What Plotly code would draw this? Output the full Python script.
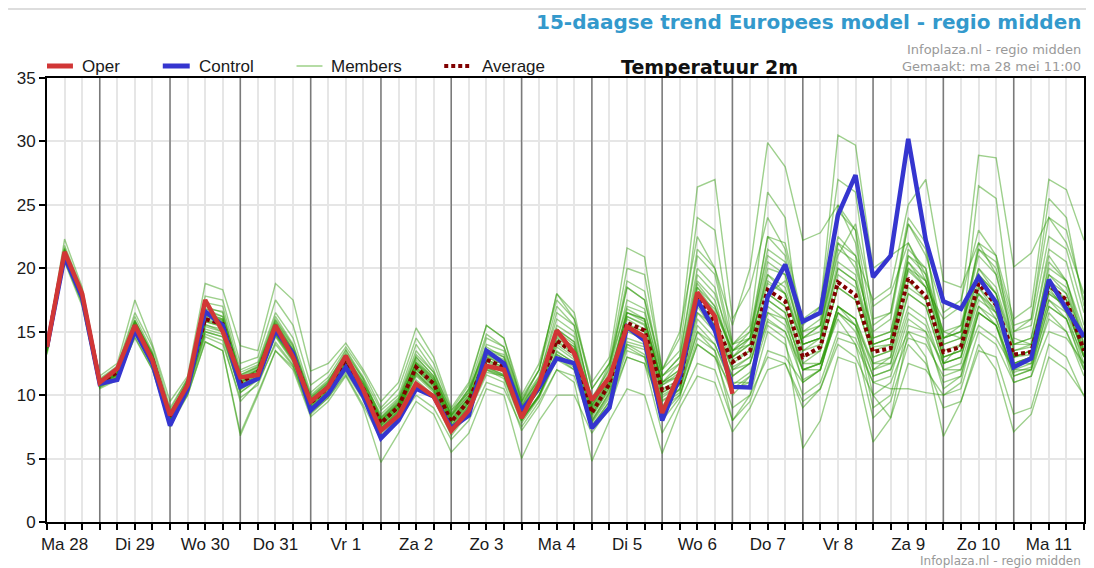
import pandas as pd
import plotly.graph_objects as go

# Time axis: 6-hourly steps, Ma 28 06:00 up to Di 12 00:00
START = '2018-05-28 06:00'
END = '2018-06-12 00:00'
DAY_LABELS = ['Ma 28', 'Di 29', 'Wo 30', 'Do 31', 'Vr 1', 'Za 2', 'Zo 3', 'Ma 4',
              'Di 5', 'Wo 6', 'Do 7', 'Vr 8', 'Za 9', 'Zo 10', 'Ma 11']

# Temperature 2m (degC)
OPER = [13.8, 21.3, 18.0,
        11.0, 12.1, 15.5, 12.75, 8.4, 10.8, 17.5, 15.0, 11.4, 11.6, 15.5, 13.0,
        9.5, 10.65, 13.1, 10.4, 7.2, 8.4, 10.9, 9.9, 7.2, 8.8, 12.3, 12.0,
        8.2, 10.9, 15.1, 13.3, 9.6, 11.4, 15.4, 14.6, 8.6, 11.8, 18.1, 16.2, 10.1]

CONTROL = [13.8, 20.9, 17.7,
           10.9, 11.2, 15.1, 12.5, 7.6, 10.5, 16.6, 15.5, 10.65, 11.3, 15.1, 13.3,
           8.8, 10.1, 12.2, 9.9, 6.6, 8.0, 10.5, 9.9, 7.4, 8.4, 13.5, 12.5,
           8.8, 10.6, 12.9, 12.5, 7.4, 9.0, 15.4, 14.3, 8.0, 11.4, 17.5, 15.1,
           10.65, 10.6, 17.75, 20.3, 15.8, 16.5, 24.2, 27.35, 19.3, 21.0, 30.2, 22.2,
           17.4, 16.8, 19.3, 17.3, 12.2, 12.9, 19.1, 16.8, 14.6]

AVERAGE = [13.8, 21.2, 17.8,
           11.0, 11.8, 15.4, 12.8, 8.2, 10.8, 16.0, 15.6, 11.0, 11.8, 15.3, 13.2,
           9.4, 10.6, 12.6, 10.5, 7.8, 9.1, 12.2, 10.9, 7.9, 9.6, 12.8, 12.2,
           8.7, 10.6, 14.3, 13.3, 8.6, 10.9, 15.7, 15.1, 10.4, 11.0, 17.7, 15.8,
           12.6, 13.5, 18.3, 17.4, 13.0, 13.8, 18.9, 17.9, 13.4, 13.7, 19.2, 17.8,
           13.4, 13.8, 18.8, 17.1, 13.2, 13.4, 18.7, 17.5, 13.5]

member_01 = [13.9, 21.5, 18.1, 11.2, 12.0, 15.8, 13.2, 8.5, 11.0, 16.8, 16.2, 11.8, 12.4, 16.2, 14.0,
             10.0, 11.2, 13.2, 11.0, 8.5, 9.8, 13.5, 11.8, 8.8, 10.2, 14.0, 13.5, 9.5, 11.5, 16.0, 15.0,
             9.8, 12.0, 18.5, 17.5, 12.0, 14.5, 26.4, 27.0, 16.0, 18.5, 24.0, 21.5, 15.5, 17.0, 30.5, 29.7,
             20.0, 21.0, 22.0, 19.5, 15.0, 15.5, 19.5, 18.0, 14.0, 14.5, 21.0, 19.0, 15.0]
member_02 = [13.7, 21.0, 17.6, 11.1, 11.9, 15.6, 13.0, 8.4, 11.2, 17.0, 16.5, 11.5, 12.2, 15.8, 13.6,
             9.8, 11.0, 13.5, 11.2, 8.2, 9.5, 13.0, 11.5, 8.5, 10.5, 13.8, 13.0, 9.2, 11.4, 16.5, 15.5,
             9.5, 12.2, 19.0, 18.2, 11.5, 13.0, 21.5, 20.0, 15.5, 20.0, 29.9, 28.0, 22.2, 22.8, 25.0, 22.0,
             14.5, 15.0, 20.5, 18.5, 16.0, 17.0, 28.9, 28.7, 20.1, 21.2, 24.0, 22.0, 18.0]
member_03 = [13.8, 21.4, 18.0, 11.0, 11.6, 15.2, 12.6, 8.0, 10.6, 15.8, 15.4, 10.8, 11.6, 15.0, 13.0,
             9.2, 10.4, 12.4, 10.4, 7.8, 9.2, 12.6, 11.4, 8.4, 10.0, 14.5, 13.8, 9.6, 12.0, 18.0, 16.0,
             11.0, 13.0, 21.6, 20.9, 12.0, 15.0, 22.5, 20.0, 14.0, 14.5, 20.5, 19.5, 14.5, 15.0, 22.0, 20.0,
             15.0, 16.0, 23.5, 21.0, 16.5, 17.5, 23.0, 21.0, 16.0, 17.0, 27.0, 26.2, 22.2]
member_04 = [13.6, 21.1, 17.7, 10.9, 11.7, 15.5, 12.9, 8.3, 10.9, 16.3, 15.9, 11.3, 12.0, 15.5, 13.4,
             9.5, 10.8, 12.9, 10.8, 8.0, 9.4, 12.5, 11.0, 8.0, 9.8, 13.2, 12.6, 9.0, 11.0, 15.2, 14.2,
             9.2, 11.5, 16.5, 16.0, 11.0, 12.0, 19.5, 18.0, 14.0, 15.0, 21.0, 20.0, 15.0, 16.0, 22.5, 21.0,
             17.5, 18.5, 25.0, 27.0, 19.0, 18.5, 22.0, 19.5, 14.5, 14.0, 19.5, 18.5, 14.0]
member_05 = [13.5, 20.8, 17.4, 10.8, 11.5, 15.0, 12.4, 7.9, 10.5, 15.2, 14.8, 10.2, 11.2, 14.6, 12.6,
             9.0, 10.2, 12.2, 10.0, 7.4, 8.8, 11.8, 10.4, 7.4, 9.2, 12.2, 11.6, 8.0, 10.0, 13.5, 12.5,
             8.0, 10.2, 14.5, 14.0, 9.5, 10.5, 15.5, 14.0, 10.5, 11.0, 15.5, 14.5, 5.8, 8.0, 13.0, 12.5,
             6.3, 8.2, 12.5, 12.0, 10.0, 11.0, 16.5, 15.5, 11.5, 12.0, 16.0, 15.0, 12.0]
member_06 = [13.9, 21.3, 17.9, 11.1, 12.0, 15.9, 13.1, 8.6, 11.1, 16.5, 16.0, 11.0, 11.9, 15.6, 13.3,
             9.6, 10.8, 12.8, 10.6, 7.6, 9.0, 12.0, 10.6, 7.6, 9.4, 12.4, 11.8, 8.4, 10.4, 13.8, 12.8,
             8.2, 10.6, 15.0, 14.4, 9.8, 10.8, 16.5, 15.0, 11.5, 12.5, 17.0, 16.0, 11.0, 12.0, 16.5, 15.0,
             11.5, 12.0, 15.0, 13.0, 6.75, 9.5, 14.0, 12.0, 7.1, 8.5, 13.0, 12.0, 10.0]
member_07 = [13.4, 20.6, 17.2, 10.6, 11.3, 14.8, 12.2, 7.6, 10.2, 14.6, 14.0, 9.8, 10.8, 14.2, 12.4,
             8.6, 9.8, 11.8, 9.6, 7.0, 8.2, 11.0, 9.8, 6.8, 8.6, 11.6, 11.0, 7.2, 9.2, 12.0, 11.0,
             4.8, 8.0, 10.5, 10.0, 5.4, 9.0, 11.5, 11.0, 7.1, 9.0, 12.0, 12.5, 9.5, 10.5, 14.0, 13.0,
             10.0, 11.0, 14.5, 14.0, 11.5, 12.0, 15.5, 14.5, 12.0, 12.5, 17.5, 16.0, 13.0]
member_08 = [13.3, 20.5, 17.0, 10.5, 11.2, 14.6, 12.0, 7.5, 10.0, 14.2, 13.5, 6.8, 10.0, 13.5, 12.0,
             8.3, 9.5, 11.5, 9.0, 4.7, 7.0, 9.5, 8.5, 5.5, 7.0, 10.5, 10.0, 5.0, 8.0, 10.0, 10.0,
             7.0, 9.0, 13.0, 12.5, 9.0, 10.0, 14.0, 13.0, 10.5, 11.5, 16.0, 15.0, 12.0, 12.5, 17.0, 16.0,
             12.5, 13.0, 18.0, 17.0, 12.5, 13.0, 18.5, 16.5, 13.0, 13.5, 19.0, 17.5, 13.0]
member_09 = [14.0, 22.3, 18.5, 11.5, 12.5, 17.5, 14.0, 9.5, 11.5, 18.8, 18.3, 13.9, 13.5, 18.8, 17.5,
             11.9, 12.5, 14.1, 12.0, 9.5, 11.0, 15.3, 13.0, 9.0, 11.0, 15.5, 14.5, 10.0, 12.5, 17.5, 16.0,
             10.5, 12.5, 17.0, 16.5, 11.5, 12.5, 19.0, 17.5, 13.0, 14.0, 19.5, 18.0, 14.0, 14.5, 20.0, 19.0,
             13.5, 14.0, 20.5, 19.0, 14.5, 15.0, 20.0, 18.5, 14.0, 14.0, 19.0, 18.0, 14.5]
member_10 = [13.2, 20.9, 17.5, 10.7, 11.4, 14.5, 12.0, 7.8, 10.0, 14.2, 13.5, 7.0, 10.2, 13.5, 12.2,
             8.5, 9.8, 11.6, 9.2, 6.5, 8.0, 10.0, 9.0, 6.5, 8.0, 11.0, 10.5, 7.5, 9.5, 12.0, 11.5,
             7.5, 9.5, 13.5, 13.0, 8.5, 10.0, 14.0, 13.0, 9.0, 10.0, 15.0, 14.0, 10.0, 11.0, 15.0, 14.5,
             11.0, 11.5, 16.0, 15.0, 10.5, 11.5, 16.5, 15.5, 11.0, 11.5, 16.5, 15.0, 11.5]
member_11 = [13.8, 21.2, 17.9, 11.0, 11.9, 15.6, 13.0, 8.3, 10.9, 16.2, 15.8, 11.2, 12.0, 15.6, 13.5,
             9.6, 10.8, 12.8, 10.8, 8.0, 9.3, 12.6, 11.2, 8.2, 9.8, 13.2, 12.6, 9.0, 10.8, 14.8, 13.8,
             9.0, 11.2, 16.5, 15.8, 11.0, 11.5, 18.5, 16.5, 13.5, 14.0, 19.5, 18.5, 14.0, 14.5, 20.0, 19.0,
             14.0, 14.5, 21.0, 19.5, 14.0, 14.5, 19.5, 18.0, 13.5, 14.0, 20.0, 19.0, 14.5]
member_12 = [13.7, 21.0, 17.6, 10.9, 11.6, 15.1, 12.6, 8.0, 10.6, 15.5, 15.2, 10.6, 11.5, 14.8, 12.8,
             9.2, 10.3, 12.4, 10.2, 7.4, 8.8, 11.8, 10.5, 7.5, 9.2, 12.2, 11.6, 8.2, 10.0, 13.4, 12.6,
             8.0, 10.2, 14.2, 13.8, 9.6, 10.4, 16.0, 14.5, 11.5, 12.5, 16.5, 15.5, 12.0, 12.5, 16.5, 15.5,
             12.5, 12.5, 17.0, 16.0, 12.0, 12.5, 17.0, 15.5, 12.0, 12.0, 17.0, 16.0, 12.0]
member_13 = [13.9, 21.4, 18.2, 11.2, 12.2, 16.2, 13.4, 8.8, 11.3, 17.3, 17.0, 12.0, 12.6, 16.5, 14.5,
             10.2, 11.4, 13.6, 11.4, 8.8, 10.0, 14.0, 12.0, 8.6, 10.5, 14.8, 13.8, 9.8, 12.0, 17.0, 15.5,
             9.5, 12.5, 20.0, 19.5, 12.0, 13.5, 24.0, 23.0, 14.0, 15.5, 26.0, 24.0, 13.5, 14.5, 25.0, 23.0,
             12.0, 13.0, 21.0, 20.0, 12.5, 14.0, 26.5, 25.5, 15.0, 16.0, 25.5, 24.0, 17.0]
member_14 = [13.6, 20.9, 17.5, 10.8, 11.5, 15.2, 12.7, 8.0, 10.5, 15.0, 14.6, 10.4, 11.4, 14.8, 12.8,
             9.0, 10.2, 12.2, 10.0, 7.2, 8.6, 11.5, 10.2, 7.2, 9.0, 12.0, 11.3, 7.8, 9.8, 12.8, 12.0,
             7.6, 9.5, 13.0, 12.5, 7.0, 9.5, 12.5, 12.0, 8.0, 10.0, 13.0, 12.5, 9.0, 10.5, 14.5, 14.0,
             8.2, 9.5, 14.0, 12.5, 9.0, 9.5, 13.5, 13.0, 8.5, 9.0, 14.0, 13.0, 9.9]
member_15 = [14.1, 21.8, 18.3, 11.3, 12.3, 16.5, 13.8, 9.0, 11.3, 17.8, 17.5, 12.5, 13.0, 17.5, 15.5,
             10.8, 11.8, 13.8, 11.8, 9.0, 10.5, 14.5, 12.5, 8.8, 10.8, 15.5, 14.5, 9.5, 12.0, 18.0, 16.5,
             10.5, 12.5, 18.5, 17.5, 11.5, 13.0, 21.0, 19.5, 13.5, 15.0, 22.5, 21.0, 14.5, 15.5, 24.5, 23.0,
             15.5, 16.5, 23.5, 21.5, 14.5, 15.5, 21.5, 20.0, 15.0, 15.5, 22.5, 21.5, 16.5]
member_16 = [13.8, 21.0, 17.7, 10.9, 11.3, 15.0, 12.5, 7.8, 10.4, 16.5, 15.4, 10.8, 11.4, 15.0, 13.3,
             8.9, 10.2, 12.3, 10.0, 6.8, 8.2, 10.8, 10.0, 7.5, 8.6, 13.0, 12.4, 8.6, 10.4, 13.2, 12.4,
             7.6, 9.2, 15.2, 14.2, 8.4, 11.2, 17.0, 15.0, 11.0, 11.0, 18.0, 19.0, 14.5, 15.5, 21.0, 23.5,
             17.0, 18.0, 22.0, 19.0, 15.0, 14.5, 18.0, 16.0, 11.5, 12.0, 18.5, 16.5, 13.5]
member_17 = [13.5, 20.7, 17.3, 10.6, 11.4, 14.9, 12.3, 7.7, 10.3, 14.8, 14.3, 9.5, 11.0, 14.0, 12.3,
             8.8, 10.0, 12.0, 9.8, 7.2, 8.5, 11.2, 10.0, 7.0, 8.8, 11.8, 11.5, 8.0, 10.0, 13.0, 12.0,
             8.4, 10.4, 14.0, 13.2, 9.0, 10.5, 15.0, 13.5, 10.0, 11.5, 16.5, 16.0, 12.5, 12.5, 16.0, 14.0,
             11.0, 10.5, 10.5, 10.2, 10.0, 10.5, 15.0, 14.0, 11.0, 11.5, 15.0, 14.5, 12.5]
member_18 = [13.8, 21.6, 18.0, 11.1, 12.1, 15.9, 13.3, 8.6, 11.0, 16.8, 16.6, 11.6, 12.3, 16.0, 13.9,
             9.9, 11.1, 13.3, 11.3, 8.3, 9.7, 13.2, 11.8, 8.4, 10.4, 13.6, 13.2, 9.4, 11.2, 15.5, 14.6,
             9.4, 11.8, 17.5, 16.8, 11.0, 12.5, 20.0, 18.5, 13.0, 14.5, 22.5, 22.0, 16.0, 17.0, 27.0, 26.0,
             16.0, 16.5, 24.0, 22.0, 13.0, 13.5, 20.0, 18.0, 12.5, 13.0, 20.5, 19.0, 14.0]
member_19 = [13.7, 21.1, 17.8, 11.0, 11.8, 15.4, 12.9, 8.2, 10.8, 16.0, 15.5, 11.0, 11.7, 15.2, 13.1,
             9.4, 10.6, 12.6, 10.5, 7.6, 9.0, 12.2, 10.9, 7.8, 9.5, 12.8, 12.2, 8.6, 10.6, 14.5, 13.5,
             8.8, 11.0, 16.0, 15.2, 10.2, 11.0, 17.5, 15.5, 12.0, 13.0, 18.0, 17.0, 12.5, 13.5, 18.5, 17.5,
             13.0, 13.5, 19.0, 17.5, 13.0, 13.5, 18.5, 17.0, 13.0, 13.5, 18.5, 17.5, 13.5]
member_20 = [13.6, 21.0, 17.6, 10.8, 11.6, 15.3, 12.7, 8.1, 10.7, 15.6, 15.0, 10.8, 11.6, 15.0, 13.0,
             9.3, 10.5, 12.5, 10.3, 7.5, 8.9, 12.0, 10.7, 7.6, 9.4, 12.6, 12.0, 8.4, 10.4, 14.0, 13.0,
             8.5, 10.6, 15.2, 14.6, 10.0, 10.8, 16.5, 15.5, 12.0, 12.5, 17.5, 16.5, 12.0, 12.0, 17.0, 16.0,
             10.0, 8.2, 15.0, 14.5, 11.0, 11.5, 17.0, 16.0, 12.5, 12.5, 17.5, 16.5, 12.5]
member_21 = [13.8, 21.3, 17.9, 11.1, 11.9, 15.7, 13.1, 8.4, 10.9, 16.4, 16.0, 11.4, 12.1, 15.7, 13.6,
             9.7, 10.9, 12.9, 10.9, 8.1, 9.4, 12.8, 11.3, 8.3, 10.0, 13.4, 12.8, 9.1, 11.0, 15.0, 14.0,
             9.2, 11.4, 16.8, 16.0, 10.8, 11.8, 18.8, 17.0, 13.0, 14.0, 20.0, 19.5, 14.0, 14.5, 21.5, 20.5,
             14.5, 15.0, 21.5, 20.0, 14.5, 15.0, 21.0, 19.5, 14.0, 14.5, 21.5, 20.5, 15.5]
member_22 = [13.6, 20.9, 17.5, 10.9, 11.6, 15.0, 12.5, 7.9, 10.5, 15.4, 15.0, 10.5, 11.4, 14.9, 12.9,
             9.1, 10.3, 12.3, 10.1, 7.3, 8.7, 11.6, 10.4, 7.3, 9.1, 12.0, 11.5, 8.1, 9.9, 13.2, 12.4,
             7.9, 10.0, 14.0, 13.6, 9.2, 10.2, 15.0, 14.0, 10.8, 11.8, 15.8, 15.0, 11.2, 12.0, 16.5, 15.5,
             11.5, 12.0, 16.5, 15.5, 12.0, 12.0, 16.5, 15.5, 11.8, 12.2, 17.0, 16.0, 12.2]
member_23 = [13.7, 21.2, 17.8, 11.0, 11.8, 15.5, 12.9, 8.2, 10.8, 16.1, 15.7, 11.1, 11.9, 15.4, 13.3,
             9.5, 10.7, 12.7, 10.6, 7.9, 9.2, 12.4, 11.0, 8.0, 9.7, 13.0, 12.4, 8.8, 10.7, 14.6, 13.6,
             8.8, 11.0, 16.2, 15.5, 10.5, 11.2, 18.0, 16.2, 12.8, 13.5, 18.8, 18.0, 13.5, 14.0, 19.5, 18.5,
             13.8, 14.0, 19.8, 18.5, 14.0, 14.5, 22.0, 21.0, 13.5, 13.8, 19.5, 18.0, 13.8]
member_24 = [13.8, 21.1, 17.7, 10.9, 11.7, 15.3, 12.7, 8.1, 10.7, 15.8, 15.4, 10.9, 11.7, 15.1, 13.1,
             9.3, 10.5, 12.5, 10.4, 7.7, 9.0, 12.1, 10.8, 7.8, 9.5, 12.7, 12.1, 8.6, 10.5, 14.2, 13.2,
             8.5, 10.8, 15.5, 15.0, 10.2, 11.0, 17.2, 15.5, 12.2, 13.0, 17.5, 16.5, 12.0, 12.5, 17.0, 15.5,
             9.0, 10.0, 15.5, 15.0, 12.5, 13.0, 17.5, 16.5, 12.5, 13.0, 18.0, 17.0, 13.0]
member_25 = [13.9, 21.5, 18.0, 11.1, 12.0, 15.8, 13.2, 8.5, 11.0, 16.6, 16.2, 11.6, 12.2, 15.9, 13.8,
             9.8, 11.0, 13.0, 11.0, 8.2, 9.6, 13.0, 11.5, 8.4, 10.2, 13.5, 13.0, 9.2, 11.2, 15.2, 14.2,
             9.2, 11.5, 16.5, 16.0, 11.0, 12.0, 18.5, 17.0, 13.5, 14.5, 19.0, 18.0, 14.0, 14.5, 20.5, 19.5,
             14.0, 14.5, 20.0, 19.0, 14.5, 15.0, 21.5, 20.5, 15.5, 16.0, 24.0, 23.0, 17.5]
member_26 = [13.5, 20.8, 17.4, 10.7, 11.4, 14.9, 12.4, 7.9, 10.4, 15.0, 14.6, 10.2, 11.3, 14.7, 12.7,
             9.0, 10.2, 12.2, 10.0, 7.3, 8.7, 11.7, 10.3, 7.3, 9.0, 12.1, 11.5, 8.0, 9.9, 13.0, 12.2,
             7.8, 9.8, 13.8, 13.0, 8.0, 9.8, 14.5, 13.5, 8.0, 9.5, 13.5, 13.0, 11.0, 12.0, 17.0, 16.0,
             12.0, 12.5, 18.0, 17.0, 12.5, 13.0, 18.0, 16.5, 12.5, 13.0, 18.0, 17.0, 13.0]
member_27 = [13.8, 21.2, 17.8, 11.0, 11.9, 15.6, 13.0, 8.3, 10.9, 16.3, 15.9, 11.3, 12.0, 15.6, 13.4,
             9.6, 10.8, 12.8, 10.7, 8.0, 9.3, 12.5, 11.2, 8.1, 9.8, 13.1, 12.5, 8.9, 10.8, 14.7, 13.8,
             9.0, 11.2, 16.2, 15.6, 10.8, 11.5, 18.0, 16.8, 13.5, 14.5, 21.5, 20.5, 15.0, 15.5, 22.0, 21.0,
             14.0, 14.5, 20.0, 18.5, 13.5, 14.0, 19.0, 17.5, 13.0, 13.5, 18.5, 17.5, 13.5]
member_28 = [13.7, 21.0, 17.7, 11.0, 11.7, 15.4, 12.8, 8.2, 10.7, 15.9, 15.5, 11.0, 11.8, 15.2, 13.2,
             9.4, 10.6, 12.6, 10.5, 7.8, 9.1, 12.2, 10.9, 7.9, 9.6, 12.8, 12.2, 8.7, 10.6, 14.3, 13.3,
             8.6, 10.9, 15.6, 15.0, 10.4, 11.0, 17.5, 15.8, 12.5, 13.5, 18.0, 17.0, 13.0, 13.5, 18.5, 17.5,
             13.0, 13.5, 18.5, 17.5, 13.0, 13.5, 18.0, 16.8, 13.0, 13.2, 18.2, 17.0, 13.2]

MEMBERS = [member_01, member_02, member_03, member_04, member_05, member_06, member_07,
           member_08, member_09, member_10, member_11, member_12, member_13, member_14,
           member_15, member_16, member_17, member_18, member_19, member_20, member_21,
           member_22, member_23, member_24, member_25, member_26, member_27, member_28]

# Style settings
COLORS = {'oper': '#d13636', 'control': '#3535cf', 'members': 'rgba(40,150,0,0.45)',
          'members_legend': '#b5dca5', 'average': '#800000'}
# The page body has an 8px margin, so the figure sits 8px in from the window edge
FIG_W, FIG_H = 1086, 560
OFFSET = 8
MARGIN = dict(l=39, r=8, t=70, b=46)
FONT = 'Liberation Sans, Arial, sans-serif'
FONT_V = 'DejaVu Sans, Verdana, sans-serif'


def px_x(px):
    """Window pixel -> paper x."""
    return (px - OFFSET - MARGIN['l']) / (FIG_W - MARGIN['l'] - MARGIN['r'])


def px_y(py):
    """Window pixel -> paper y."""
    return (FIG_H - MARGIN['b'] - (py - OFFSET)) / (FIG_H - MARGIN['t'] - MARGIN['b'])


times = pd.date_range(START, periods=len(CONTROL), freq='6h')
six_hours = pd.date_range(START, END, freq='6h')
noons = pd.date_range('2018-05-28 12:00', periods=len(DAY_LABELS), freq='D')
midnights = pd.date_range('2018-05-29', '2018-06-11', freq='D')

fig = go.Figure()

for member in MEMBERS:
    fig.add_trace(go.Scatter(
        x=times, y=member, mode='lines',
        line=dict(color=COLORS['members'], width=1.4),
        showlegend=False, hoverinfo='skip'
    ))

fig.add_trace(go.Scatter(
    x=times, y=AVERAGE, mode='lines', name='Average',
    line=dict(color=COLORS['average'], width=4, dash='4px,3px'),
    showlegend=False
))
fig.add_trace(go.Scatter(
    x=times, y=CONTROL, mode='lines', name='Control',
    line=dict(color=COLORS['control'], width=4.5),
    showlegend=False
))
fig.add_trace(go.Scatter(
    x=times[:len(OPER)], y=OPER, mode='lines', name='Oper',
    line=dict(color=COLORS['oper'], width=4.5),
    showlegend=False
))

# Dark lines at midnight
shapes = [dict(type='line', xref='x', yref='y',
               x0=d.strftime('%Y-%m-%d %H:%M'), x1=d.strftime('%Y-%m-%d %H:%M'),
               y0=0, y1=35, line=dict(color='#7a7a7a', width=1.5), layer='between')
          for d in midnights]

# Legend drawn by hand above the plot
legend_items = [
    ('Oper', 47, 73, 80, dict(color=COLORS['oper'], width=5)),
    ('Control', 163, 190, 197, dict(color=COLORS['control'], width=5)),
    ('Members', 297, 323, 330, dict(color=COLORS['members_legend'], width=2)),
    ('Average', 445, 470, 481, dict(color=COLORS['average'], width=4, dash='4px,3px')),
]
annotations = []
for text, x0, x1, xt, line in legend_items:
    shapes.append(dict(type='line', xref='paper', yref='paper',
                       x0=px_x(x0), x1=px_x(x1), y0=px_y(66), y1=px_y(66), line=line))
    annotations.append(dict(text=text, xref='paper', yref='paper', x=px_x(xt), y=px_y(66),
                            xanchor='left', yanchor='middle', showarrow=False,
                            font=dict(family=FONT, size=17, color='#1a1a1a')))

# Light border line at the top of the page
shapes.append(dict(type='line', xref='paper', yref='paper', x0=px_x(OFFSET), x1=px_x(1094),
                   y0=px_y(9), y1=px_y(9), line=dict(color='#dddddd', width=2)))

annotations += [
    dict(text='<b>15-daagse trend Europees model - regio midden</b>', xref='paper', yref='paper',
         x=px_x(1086), y=px_y(22), xanchor='right', yanchor='middle', showarrow=False,
         font=dict(family=FONT_V, size=20, color='#3399cc')),
    dict(text='<b>Temperatuur 2m</b>', xref='paper', yref='paper',
         x=px_x(711), y=px_y(67), xanchor='center', yanchor='middle', showarrow=False,
         font=dict(family=FONT_V, size=19, color='#111111')),
    dict(text='Infoplaza.nl - regio midden', xref='paper', yref='paper',
         x=px_x(1085), y=px_y(50), xanchor='right', yanchor='middle', showarrow=False,
         font=dict(family=FONT_V, size=13, color='#999999')),
    dict(text='Gemaakt: ma 28 mei 11:00', xref='paper', yref='paper',
         x=px_x(1085), y=px_y(66), xanchor='right', yanchor='middle', showarrow=False,
         font=dict(family=FONT_V, size=13, color='#999999')),
    dict(text='Infoplaza.nl - regio midden', xref='paper', yref='paper',
         x=px_x(1085), y=px_y(561), xanchor='right', yanchor='middle', showarrow=False,
         font=dict(family=FONT_V, size=12, color='#999999')),
]

fig.update_layout(
    width=FIG_W, height=FIG_H,
    margin=dict(l=MARGIN['l'], r=MARGIN['r'], t=MARGIN['t'], b=MARGIN['b'], pad=0),
    paper_bgcolor='white', plot_bgcolor='white',
    showlegend=False,
    shapes=shapes,
    annotations=annotations,
    xaxis=dict(
        range=[START, END],
        tickmode='array', tickvals=noons, ticktext=DAY_LABELS,
        ticks='outside', ticklen=6, tickwidth=2, tickcolor='black',
        tickfont=dict(family=FONT, size=17, color='#1a1a1a'),
        ticklabelstandoff=0,
        showgrid=True, gridcolor='#e6e6e6', gridwidth=2,
        minor=dict(tickmode='array', tickvals=six_hours, ticks='outside', ticklen=6,
                   tickwidth=2, tickcolor='black', showgrid=True,
                   gridcolor='#e6e6e6', gridwidth=2),
        showline=True, linecolor='black', linewidth=2, mirror=True,
        zeroline=False
    ),
    yaxis=dict(
        range=[0, 35], tickmode='linear', tick0=0, dtick=5,
        ticks='outside', ticklen=6, tickwidth=2, tickcolor='black',
        tickfont=dict(family=FONT, size=17, color='#1a1a1a'),
        showgrid=True, gridcolor='#e6e6e6', gridwidth=2,
        showline=True, linecolor='black', linewidth=2, mirror=True,
        zeroline=False
    ),
)

fig.write_html('out.html')
